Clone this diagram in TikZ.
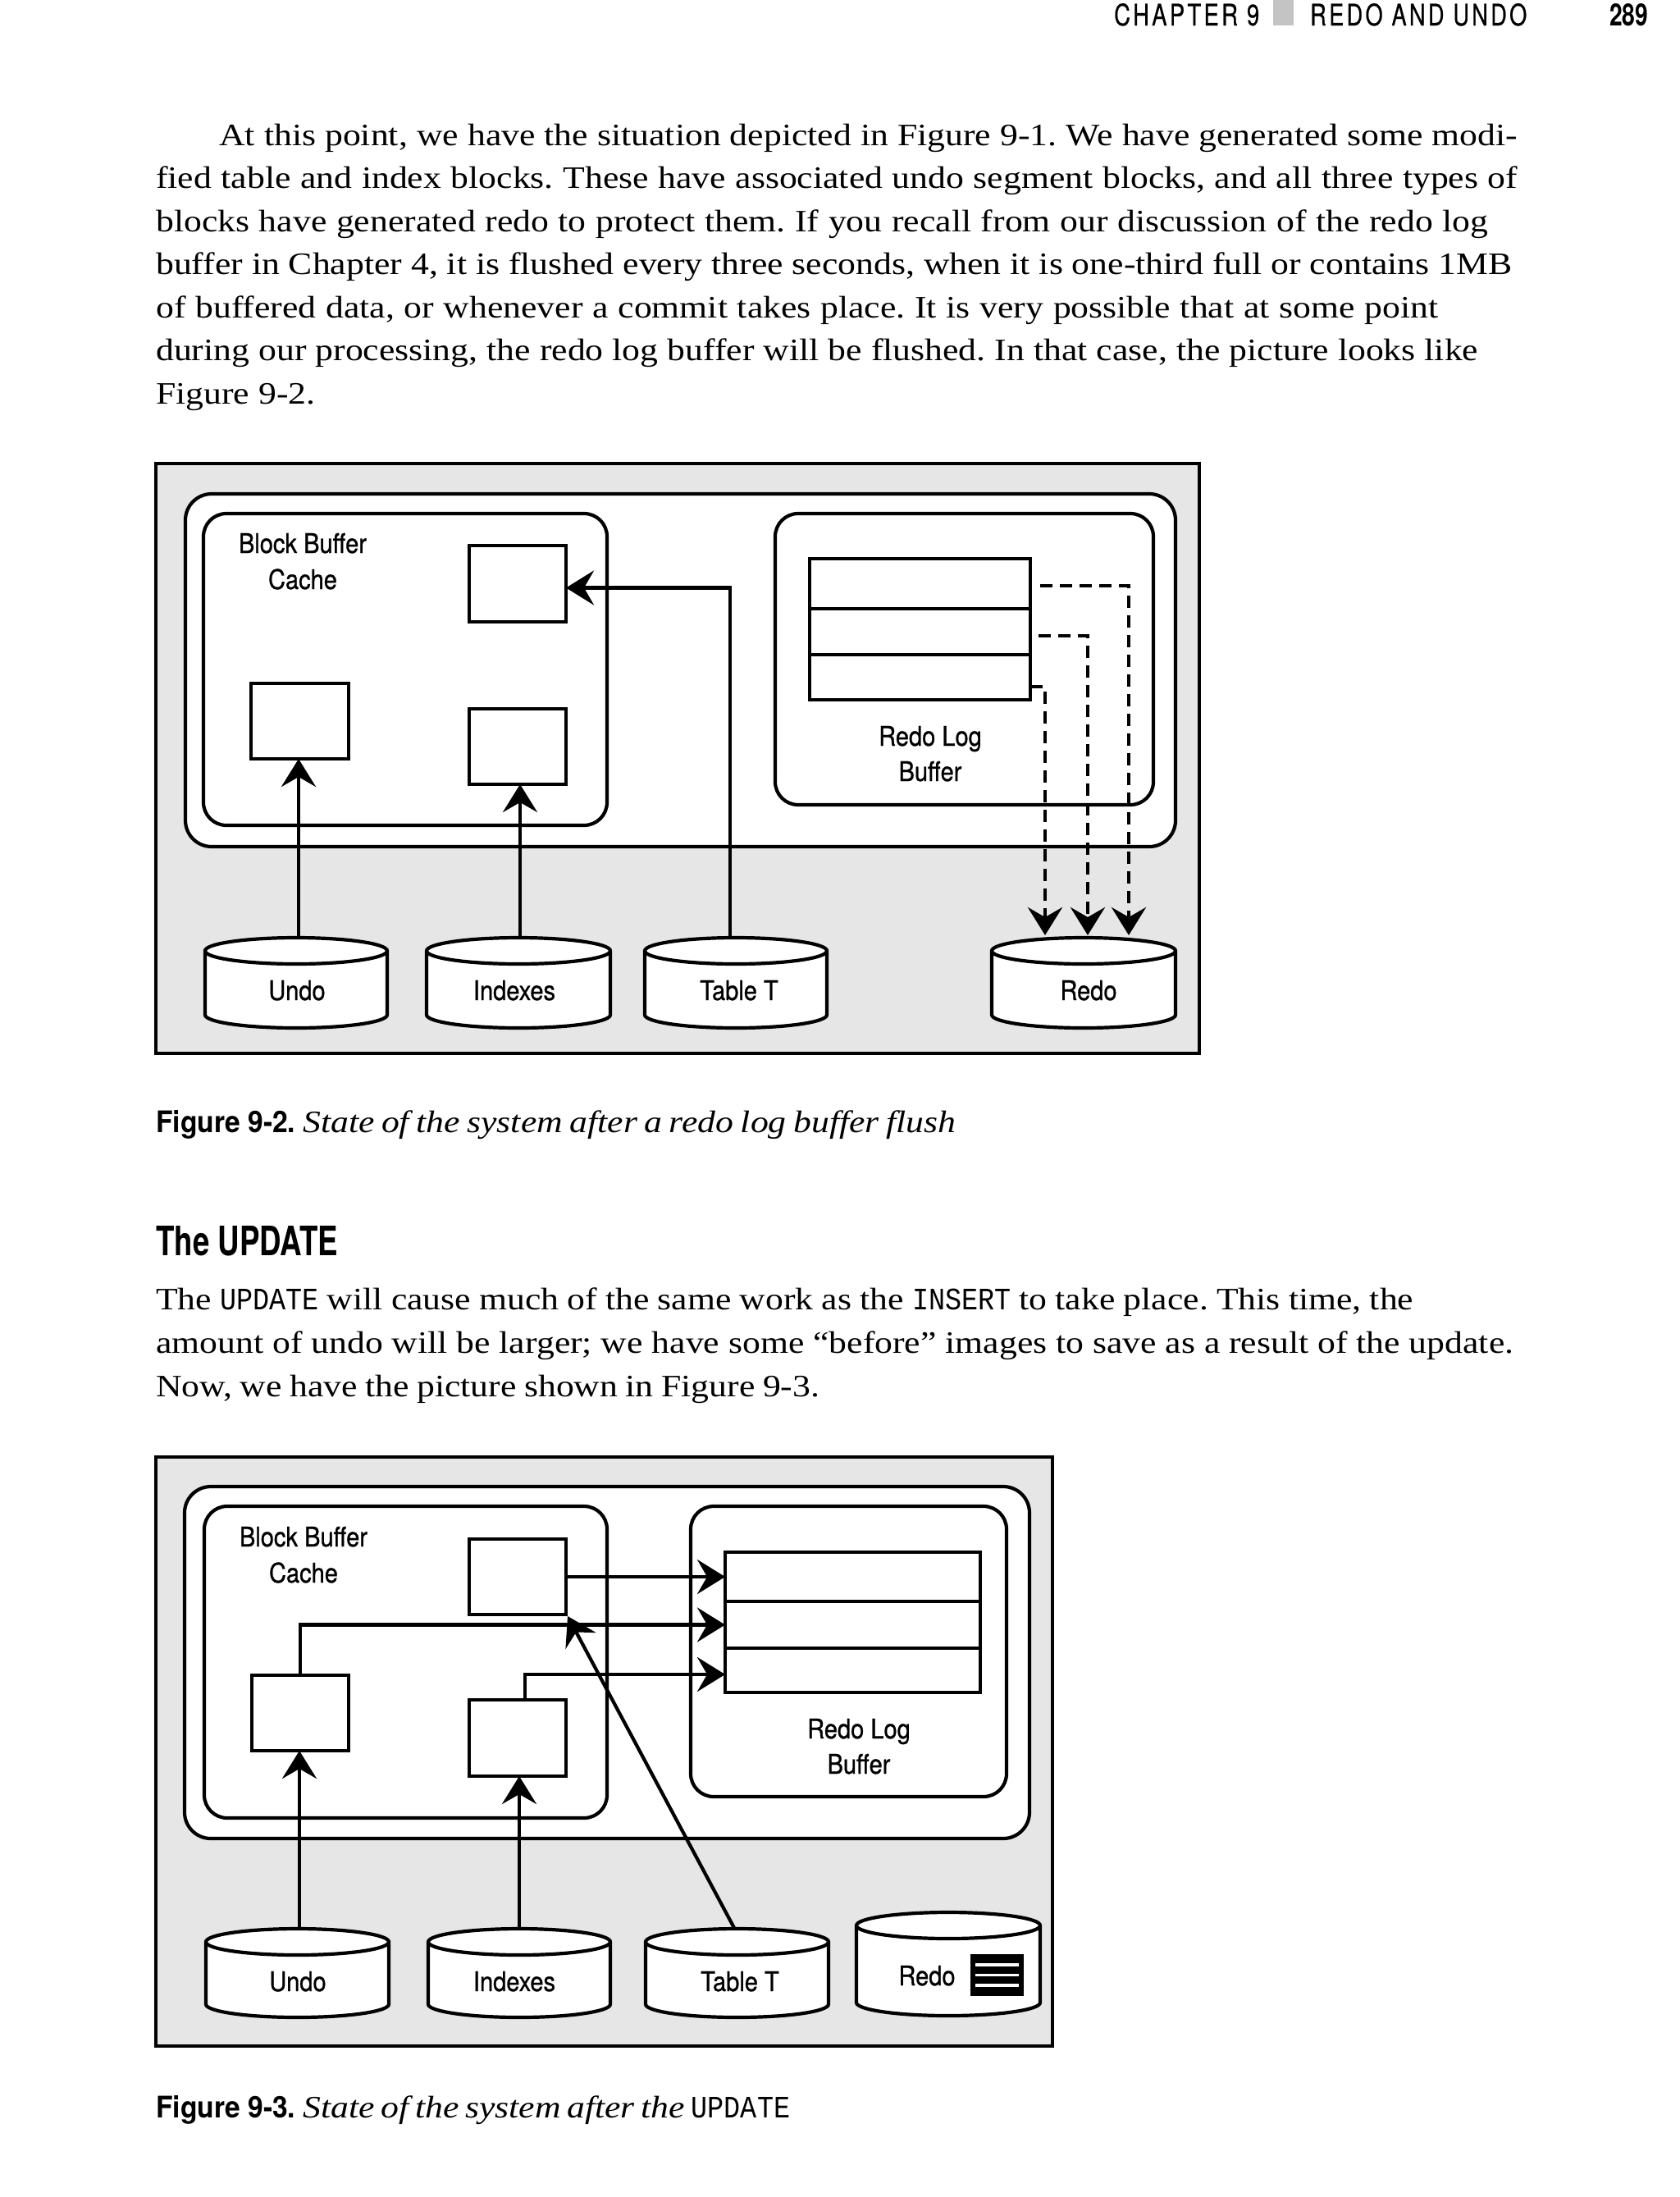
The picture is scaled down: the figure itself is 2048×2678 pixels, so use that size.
\documentclass[tikz,border=0pt]{standalone}
\usepackage{fontspec}
\usepackage{graphicx}
\setmainfont[FakeStretch=1.15]{Liberation Serif}
\newfontfamily\labfont[FakeStretch=0.88,FakeBold=0.8]{TeX Gyre Heros}
\newfontfamily\capfont{TeX Gyre Heros}
\newfontfamily\monofont[FakeStretch=0.88]{Liberation Mono}
\newfontfamily\headfont[LetterSpace=12,FakeBold=0.6]{TeX Gyre Heros}
\usetikzlibrary{arrows.meta}
\definecolor{bggrey}{HTML}{E6E6E6}
\definecolor{sqgrey}{HTML}{C4C4C4}
\newcommand\boxat[6][]{\node[#1, inner sep=0pt, outer sep=0pt, minimum width={#5-#3}, minimum height={#6-#4}] (#2) at ({(#3+#5)/2},{(#4+#6)/2}) {};}
\newcommand\mycyl[5]{%
  \pgfmathsetmacro\cylrx{(#3-#2)/2}%
  \pgfmathsetmacro\cylcx{(#2+#3)/2}%
  \filldraw[fill=white, line width=4.2pt] (#2,#4) -- (#2,#5) arc[start angle=180, end angle=0, x radius=\cylrx, y radius=16] -- (#3,#4) arc[start angle=0, end angle=-180, x radius=\cylrx, y radius=16] -- cycle;
  \draw[line width=4.2pt] (#2,#4) arc[start angle=180, end angle=0, x radius=\cylrx, y radius=16];
  \coordinate (#1) at (\cylcx,#4);
}
\begin{document}
\frenchspacing
\begin{tikzpicture}[x=1pt,y=-1pt,
  greyb/.style={draw=black, line width=3.5pt, fill=bggrey},
  rbox/.style={draw=black, line width=4.2pt, fill=white, rounded corners=28pt},
  blk/.style={draw=black, line width=4.2pt, fill=white},
  arr/.style={line width=4.2pt, -{Stealth[length=34pt,width=42pt,inset=12pt]}},
  dsh/.style={line width=4.5pt, dash pattern=on 15pt off 9pt, -{Stealth[length=34pt,width=42pt,inset=12pt]}},
  lbl/.style={font=\labfont\fontsize{33}{40}\selectfont, inner sep=0pt, anchor=base},
  body/.style={font=\fontsize{38}{46}\selectfont, inner sep=0pt, anchor=base west},
  plain/.style={inner sep=0pt, anchor=base west},
]
\useasboundingbox (0,0) rectangle (2048,2678);
\fill[white] (0,0) rectangle (2048,2678);

% running head
\node[plain] (hc) at (1358,31) {\resizebox{177pt}{27pt}{\headfont CHAPTER 9}};
\fill[sqgrey] (1552,0) rectangle (1577,31);
\node[plain] (ht) at (1597,31) {\resizebox{264pt}{27pt}{\headfont REDO AND UNDO}};
\node[plain] (hp) at (1962,31) {\resizebox{47pt}{27pt}{\capfont\bfseries 289}};

% first paragraph
\node[body] (l1) at (267,177) {\hbox to 1583pt{At this point, we have the situation depicted in Figure 9-1. We have generated some modi-}};
\node[body] (l2) at (190,229.5) {\hbox to 1660pt{fied table and index blocks. These have associated undo segment blocks, and all three types of}};
\node[body] (l3) at (190,282) {\hbox to 1624pt{blocks have generated redo to protect them. If you recall from our discussion of the redo log}};
\node[body] (l4) at (190,334.5) {\hbox to 1653pt{buffer in Chapter 4, it is flushed every three seconds, when it is one-third full or contains 1MB}};
\node[body] (l5) at (190,387) {\hbox to 1563pt{of buffered data, or whenever a commit takes place. It is very possible that at some point}};
\node[body] (l6) at (190,439.5) {\hbox to 1612pt{during our processing, the redo log buffer will be flushed. In that case, the picture looks like}};
\node[body] (l7) at (190,492) {Figure 9-2.};

% ================= Figure 9-2 =================
\boxat[greyb]{g2}{190}{565}{1462}{1284}
\boxat[rbox, rounded corners=32pt]{sga2}{226}{602}{1433}{1032}
\boxat[rbox]{bbc2}{248}{626}{740}{1006}
\boxat[rbox]{rlb2}{945}{626}{1406}{981}
\boxat[blk]{tb2}{572}{665}{690}{758}
\boxat[blk]{lb2}{306}{833}{425}{925}
\boxat[blk]{ib2}{572}{864}{690}{956}
\boxat[blk]{sa2}{987}{681}{1256}{742}
\boxat[blk]{sb2}{987}{742}{1256}{798}
\boxat[blk]{sc2}{987}{798}{1256}{853}
\node[lbl] (bbt2a) at (369,674) {Block Buffer};
\node[lbl] (bbt2b) at (369,718) {Cache};
\node[lbl] (rlt2a) at (1134,909) {Redo Log};
\node[lbl] (rlt2b) at (1134,952) {Buffer};
\mycyl{cu2}{250}{472}{1159}{1237}
\mycyl{ci2}{520}{744}{1159}{1237}
\mycyl{ct2}{786}{1008}{1159}{1237}
\mycyl{cr2}{1209}{1433}{1159}{1237}
\node[lbl] (lu2) at (362,1219) {Undo};
\node[lbl] (li2) at (627,1219) {Indexes};
\node[lbl] (lt2) at (901,1219) {Table T};
\node[lbl] (lr2) at (1327,1219) {Redo};
\coordinate (au2) at (364,1144);
\coordinate (ai2) at (634,1144);
\coordinate (at2) at (890,1144);
\draw[arr] (au2) -- (au2 |- lb2.south);
\draw[arr] (ai2) -- (ai2 |- ib2.south);
\draw[arr] (at2) |- ([yshift=-5pt]tb2.east);
\coordinate (ra2) at (1376,1140);
\coordinate (rb2) at (1326,1140);
\coordinate (rc2) at (1274,1140);
\draw[dsh] ([xshift=12pt,yshift=-2.5pt]sa2.east) -| (ra2);
\draw[dsh] ([xshift=10pt,yshift=-5pt]sb2.east) -| (rb2);
\draw[dsh] ([yshift=-11.5pt]sc2.east) -| (rc2);

% caption 9-2
\node[plain] (c2a) at (190,1380) {\resizebox{170pt}{27pt}{\capfont\bfseries Figure 9-2.}};
\node[body] (c2b) at (369,1380) {\hbox to 796pt{\itshape State of the system after a redo log buffer flush}};

% heading and second paragraph
\node[plain] (hd) at (190,1530) {\resizebox{222pt}{36pt}{\capfont\bfseries The UPDATE}};
\node[body] (p1) at (190,1596) {\hbox to 1533pt{The {\monofont UPDATE} will cause much of the same work as the {\monofont INSERT} to take place. This time, the}};
\node[body] (p2) at (190,1649) {\hbox to 1655pt{amount of undo will be larger; we have some “before” images to save as a result of the update.}};
\node[body] (p3) at (190,1702) {\hbox to 809pt{Now, we have the picture shown in Figure 9-3.}};

% ================= Figure 9-3 =================
\boxat[greyb]{g3}{190}{1776}{1283}{2494}
\boxat[rbox, rounded corners=32pt]{sga3}{225}{1812}{1255}{2241}
\boxat[rbox]{bbc3}{249}{1836}{740}{2216}
\boxat[rbox]{rlb3}{842}{1836}{1227}{2190}
\boxat[blk]{tb3}{572}{1876}{690}{1968}
\boxat[blk]{lb3}{307}{2042}{425}{2134}
\boxat[blk]{ib3}{572}{2072}{690}{2165}
\boxat[blk]{sa3}{884}{1892}{1195}{1952}
\boxat[blk]{sb3}{884}{1952}{1195}{2009}
\boxat[blk]{sc3}{884}{2009}{1195}{2063}
\node[lbl] (bbt3a) at (370,1885) {Block Buffer};
\node[lbl] (bbt3b) at (370,1929) {Cache};
\node[lbl] (rlt3a) at (1047,2119) {Redo Log};
\node[lbl] (rlt3b) at (1047,2162) {Buffer};
\mycyl{cu3}{251}{474}{2367}{2443}
\mycyl{ci3}{522}{744}{2367}{2443}
\mycyl{ct3}{787}{1010}{2367}{2443}
\mycyl{cr3}{1044}{1268}{2347}{2441}
\node[lbl] (lu3) at (363,2427) {Undo};
\node[lbl] (li3) at (627,2427) {Indexes};
\node[lbl] (lt3) at (902,2427) {Table T};
\node[lbl] (lr3) at (1130,2420) {Redo};
\node[fill=black, inner sep=0pt, outer sep=0pt, minimum width=65pt, minimum height=51pt] (icon) at (1215.5,2407.5) {};
\draw[white, line width=3.5pt] ([xshift=-26.5pt,yshift=12.5pt]icon.center) -- ([xshift=26.5pt,yshift=12.5pt]icon.center);
\draw[white, line width=3.5pt] ([xshift=-26.5pt]icon.center) -- ([xshift=26.5pt]icon.center);
\draw[white, line width=3.5pt] ([xshift=-26.5pt,yshift=-12.5pt]icon.center) -- ([xshift=26.5pt,yshift=-12.5pt]icon.center);
\draw[arr] (tb3.east) -- (tb3.east -| sa3.west);
\draw[arr] (lb3.north) |- (sb3.west);
\draw[arr] ([xshift=9pt]ib3.north) |- ([yshift=-5pt]sc3.west);
\coordinate (au3) at (365,2351);
\coordinate (ai3) at (633,2351);
\coordinate (at3) at (895,2350);
\draw[arr] (au3) -- (au3 |- lb3.south);
\draw[arr] (ai3) -- (ai3 |- ib3.south);
\draw[arr] (at3) -- ([xshift=2pt,yshift=-2pt]tb3.south east);

% caption 9-3
\node[plain] (c3a) at (190,2581) {\resizebox{170pt}{27pt}{\capfont\bfseries Figure 9-3.}};
\node[body] (c3b) at (369,2581) {\hbox to 594pt{\itshape State of the system after the {\monofont\upshape UPDATE}}};
\end{tikzpicture}
\end{document}
